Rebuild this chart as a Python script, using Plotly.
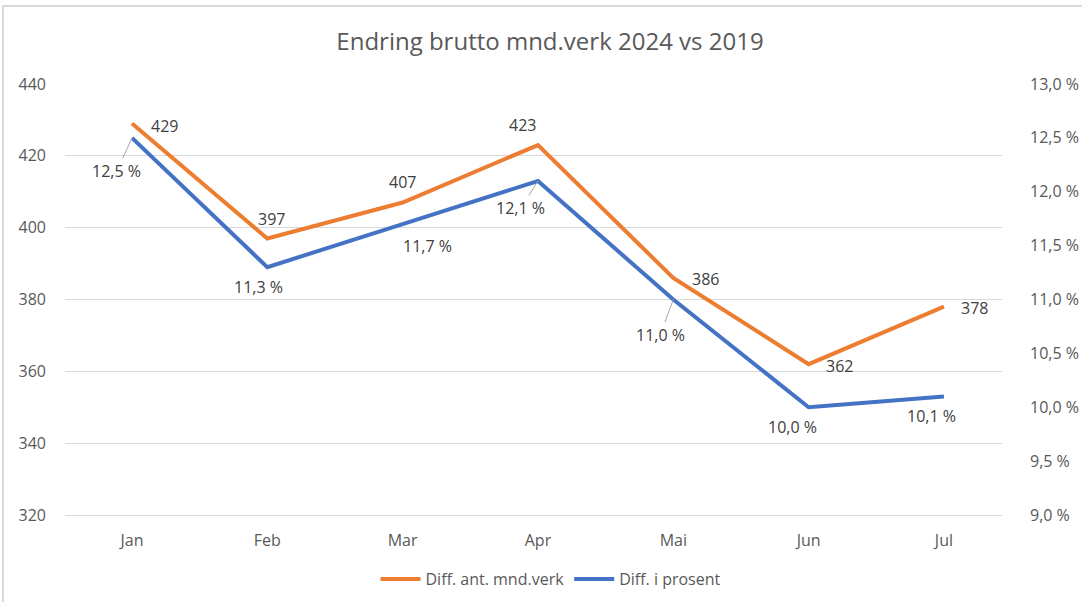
import plotly.graph_objects as go

# Monthly data, 2024 vs 2019
months = ["Jan", "Feb", "Mar", "Apr", "Mai", "Jun", "Jul"]
diff_count = [429, 397, 407, 423, 386, 362, 378]          # Diff. ant. mnd.verk
diff_pct = [12.5, 11.3, 11.7, 12.1, 11.0, 10.0, 10.1]      # Diff. i prosent

left_ticks = [320, 340, 360, 380, 400, 420, 440]
right_ticks = [9.0, 9.5, 10.0, 10.5, 11.0, 11.5, 12.0, 12.5, 13.0]
right_ticktext = ["9,0 %", "9,5 %", "10,0 %", "10,5 %", "11,0 %", "11,5 %",
                  "12,0 %", "12,5 %", "13,0 %"]

ORANGE = "#ED7D31"
BLUE = "#4472C4"
GRID = "#D9D9D9"
AXIS_TXT = "#595959"
LABEL_TXT = "#404040"
FONT = "Open Sans"
FS = 16

# label offsets in pixels (text centre relative to point) and leader flags
count_offsets = [(33, 2), (4, -19), (0, -21), (-15, -20), (32, 1), (31, 2), (31, 1)]
pct_offsets = [(-15, 33), (-9, 20), (25, 22), (-17, 27), (-13, 35), (-16, 20), (-12, 20)]
pct_leader = [True, False, False, True, True, False, False]

fig = go.Figure()
fig.add_trace(go.Scatter(
    x=months, y=diff_count, mode="lines", name="Diff. ant. mnd.verk",
    line=dict(color=ORANGE, width=4), yaxis="y"))
fig.add_trace(go.Scatter(
    x=months, y=diff_pct, mode="lines", name="Diff. i prosent",
    line=dict(color=BLUE, width=4), yaxis="y2"))

annotations = []
for m, v, (dx, dy) in zip(months, diff_count, count_offsets):
    annotations.append(dict(
        x=m, y=v, xref="x", yref="y", text=str(v), showarrow=True,
        ax=dx, ay=dy, arrowcolor="rgba(0,0,0,0)", arrowwidth=1, arrowhead=0,
        font=dict(family=FONT, size=FS, color=LABEL_TXT)))
for m, v, (dx, dy), lead in zip(months, diff_pct, pct_offsets, pct_leader):
    annotations.append(dict(
        x=m, y=v, xref="x", yref="y2",
        text=f"{v:.1f}".replace(".", ",") + " %", showarrow=True,
        ax=dx, ay=dy, arrowcolor="#A6A6A6" if lead else "rgba(0,0,0,0)",
        arrowwidth=1, arrowhead=0,
        font=dict(family=FONT, size=FS, color=LABEL_TXT)))

fig.update_layout(
    width=1082, height=602,
    margin=dict(l=65, r=80, t=84, b=87),
    paper_bgcolor="white", plot_bgcolor="white",
    font=dict(family=FONT, color=AXIS_TXT),
    title=dict(text="Endring brutto mnd.verk 2024 vs 2019",
               x=550 / 1082, xanchor="center", xref="container",
               y=1 - 42 / 602, yanchor="middle", yref="container",
               font=dict(family=FONT, size=24, color=AXIS_TXT)),
    xaxis=dict(range=[-0.495, 6.429], showgrid=False, showline=True,
               linecolor=GRID, linewidth=1, ticks="", automargin=False,
               tickfont=dict(family=FONT, size=FS, color=AXIS_TXT),
               ticklabelstandoff=11, zeroline=False),
    yaxis=dict(range=[320, 440], tickvals=left_ticks, showgrid=True,
               gridcolor=GRID, gridwidth=1, zeroline=False, showline=False,
               ticks="", automargin=False,
               tickfont=dict(family=FONT, size=FS, color=AXIS_TXT),
               ticklabelstandoff=18),
    yaxis2=dict(range=[9, 13], tickvals=right_ticks, ticktext=right_ticktext,
                overlaying="y", side="right", showgrid=False, zeroline=False,
                showline=False, ticks="", automargin=False,
                tickfont=dict(family=FONT, size=FS, color=AXIS_TXT),
                ticklabelstandoff=27),
    legend=dict(orientation="h", x=551 / 1082, xanchor="center",
                xref="container", y=1 - 579 / 602, yanchor="middle",
                yref="container", itemwidth=40,
                font=dict(family=FONT, size=FS, color=AXIS_TXT),
                bgcolor="rgba(0,0,0,0)"),
    annotations=annotations,
    shapes=[dict(type="rect", xref="paper", yref="paper",
                 x0=(3 - 65) / 937, x1=1.2, y0=-0.4, y1=1 + (84 - 6) / 431,
                 line=dict(color=GRID, width=2), fillcolor="rgba(0,0,0,0)",
                 layer="below")],
)

fig.write_html("out.html")
